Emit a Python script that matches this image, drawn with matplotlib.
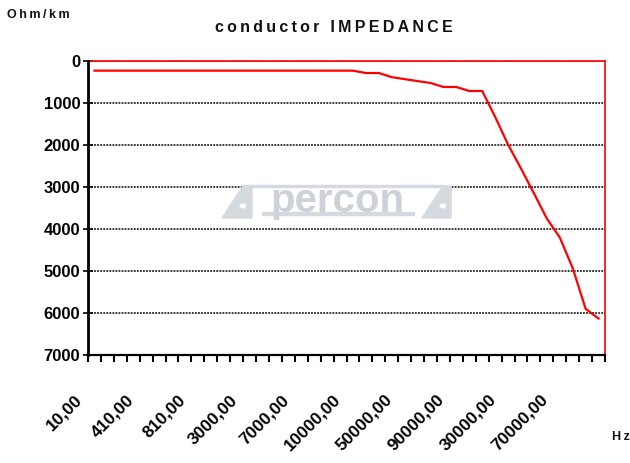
import matplotlib
matplotlib.use("Agg")
import matplotlib.pyplot as plt
from matplotlib.patches import Polygon, Rectangle, Circle
from matplotlib.transforms import ScaledTranslation

plt.rcParams['font.family'] = ['Liberation Sans', 'DejaVu Sans']

# ---- data ----
tick_labels = ["10,00", "410,00", "810,00", "3000,00", "7000,00",
               "10000,00", "50000,00", "90000,00", "30000,00", "70000,00"]
label_every = 4
impedance = [230, 230, 230, 230, 230, 230, 230, 230, 230, 230,
             230, 230, 230, 230, 230, 230, 230, 230, 230, 230,
             230, 286, 286, 385, 432, 478, 524, 619, 619, 714,
             714, 1330, 1990, 2560, 3150, 3750, 4200, 4930, 5900, 6130]
y_ticks = [0, 1000, 2000, 3000, 4000, 5000, 6000, 7000]

n = len(impedance)
x = list(range(n))

W, H = 630, 463
fig = plt.figure(figsize=(W / 100, H / 100), dpi=100)
ax = fig.add_axes([88 / W, 1 - 355 / H, (605 - 88) / W, (355 - 61) / H])

ax.set_xlim(-0.5, n - 0.5)
ax.set_ylim(7000, 0)

# gridlines
for yv in y_ticks[:-1]:
    ax.axhline(yv, color='black', lw=1.1, ls=(0, (1.2, 0.8)), zorder=2)

ax.plot(x, impedance, color='#ff0000', lw=1.6, zorder=3, clip_on=False)

# spines
for s in ['top', 'right']:
    ax.spines[s].set_color('#ff0000')
    ax.spines[s].set_linewidth(1.2)
ax.spines['left'].set_color('black')
ax.spines['left'].set_linewidth(2.0)
ax.spines['bottom'].set_color('black')
ax.spines['bottom'].set_linewidth(1.6)
ax.spines['left'].set_zorder(4)
ax.spines['bottom'].set_zorder(4)

# y ticks
ax.set_yticks(y_ticks)
ax.set_yticklabels([str(v) for v in y_ticks], fontsize=12, fontweight='bold')
ax.tick_params(axis='y', direction='inout', length=7, width=1.2, pad=2)

# x ticks at category boundaries
ax.set_xticks([i - 0.5 for i in range(n + 1)])
ax.set_xticklabels([])
ax.tick_params(axis='x', direction='out', length=5, width=1.5)

# rotated category labels every 4th category
off = ScaledTranslation(-20 / 100, -37 / 100, fig.dpi_scale_trans)
for k, lab in enumerate(tick_labels):
    ax.text(k * label_every, 0, lab, transform=ax.get_xaxis_transform() + off,
            rotation=45, rotation_mode='anchor', ha='right', va='top',
            fontsize=12.5, fontweight='bold', color='black')

# titles
fig.text(334 / W, 1 - 28 / H, '\u2009'.join("conductor IMPEDANCE"), ha='center', va='center',
         fontsize=11.5, fontweight='bold', color='#111111')
fig.text(7 / W, 1 - 15 / H, '\u2009'.join("Ohm/km"), ha='left', va='center',
         fontsize=9, fontweight='bold', color='#111111')
fig.text(612 / W, 1 - 437 / H, '\u2009'.join("Hz"), ha='left', va='center',
         fontsize=9, fontweight='bold', color='#111111')

# faint watermark logo
lc = '#d5d9e0'
def fp(px, py):
    return (px / W, 1 - py / H)
tr = fig.transFigure
fig.patches.append(Polygon([fp(222, 218), fp(243, 186), fp(252, 186), fp(252, 218)],
                           closed=True, color=lc, transform=tr, zorder=1))
fig.patches.append(Circle(fp(243, 206), 2.5 / W, color='white', transform=tr, zorder=1))
fig.patches.append(Polygon([fp(422, 218), fp(443, 186), fp(451, 186), fp(451, 218)],
                           closed=True, color=lc, transform=tr, zorder=1))
fig.patches.append(Circle(fp(443, 206), 2.5 / W, color='white', transform=tr, zorder=1))
fig.patches.append(Rectangle(fp(243, 187), 200 / W, 2 / H, color=lc, transform=tr, zorder=1))
fig.patches.append(Rectangle(fp(262, 215), 152 / W, 3 / H, color=lc, transform=tr, zorder=1))
fig.text(337 / W, 1 - 201 / H, "percon", ha='center', va='center',
         fontsize=29, fontweight='bold', color='#cdd1d8', zorder=1)

fig.savefig('out.png', dpi=100)
